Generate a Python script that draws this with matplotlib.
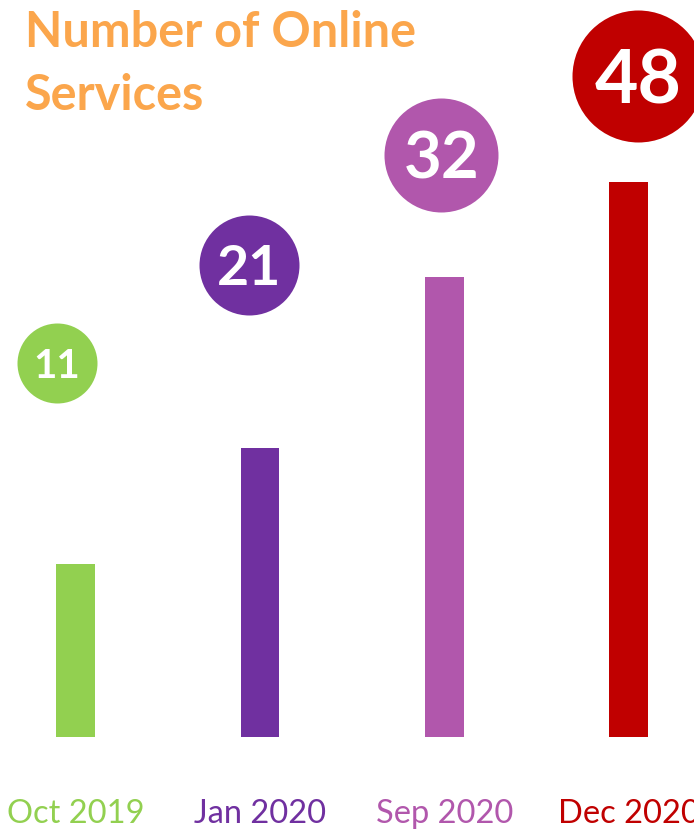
import matplotlib
matplotlib.use('Agg')
import matplotlib.pyplot as plt
from matplotlib.transforms import offset_copy

# data
periods = ['Oct 2019', 'Jan 2020', 'Sep 2020', 'Dec 2020']
services = [11, 21, 32, 48]          # numbers shown in the circles
bar_heights = [15, 25, 39.8, 48]     # bar lengths as drawn in the picture
colors = ['#92D050', '#7030A0', '#B157AC', '#C00000']

# layout (pixels)
circle_radius = [40, 50, 57, 66]
circle_gap = [201, 183, 122, 106]    # bar top -> circle centre
circle_dx = [-19, -11, -3, 9]
number_size = [29, 40, 47, 54]

W, H = 694, 833
fig = plt.figure(figsize=(W / 100, H / 100), dpi=100)
px = 72 / fig.dpi
base = 96
ax = fig.add_axes([0, base / H, 1, 694 / H])
ax.set_xlim(-0.411, 3.354)
ax.set_ylim(0, 60)
ax.axis('off')

x = range(len(periods))
ax.bar(x, bar_heights, width=0.21, color=colors)

for i, (h, v) in enumerate(zip(bar_heights, services)):
    tr = offset_copy(ax.transData, fig=fig, x=circle_dx[i] * px,
                     y=circle_gap[i] * px, units='points')
    ax.scatter([i], [h], s=(2 * circle_radius[i] * px) ** 2, color=colors[i],
               transform=tr, clip_on=False, zorder=3, linewidths=0)
    ax.text(i, h, str(v), transform=tr, ha='center', va='center_baseline',
            color='white', fontsize=number_size[i], fontweight='bold',
            family='Lato', zorder=4)
    tr2 = offset_copy(ax.transData, fig=fig, x=0, y=-77 * px, units='points')
    ax.text(i, 0, periods[i], transform=tr2, ha='center', va='center',
            color=colors[i], fontsize=23.5, family='Lato', clip_on=False)

fig.text(25 / W, 1 - 10 / H, 'Number of Online\nServices', ha='left', va='top',
         color='#FBA64C', fontsize=35, fontweight='bold', family='Lato',
         linespacing=1.5)

fig.savefig('out.png', dpi=100)
